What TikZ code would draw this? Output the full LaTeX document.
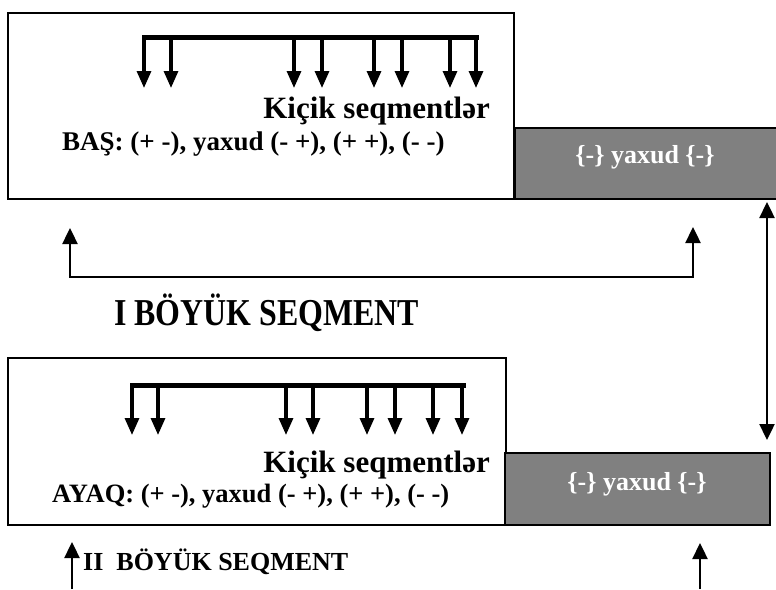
\documentclass[tikz,border=0pt]{standalone}
\usepackage{fontspec}
\setmainfont{Liberation Serif}
\newfontfamily\narrowfont[FakeStretch=0.84]{Liberation Serif}
\usetikzlibrary{arrows.meta}

\begin{document}
\begin{tikzpicture}[
        x=1pt, y=-1pt,
        frame/.style={draw, line width=1.8pt, inner sep=0pt, anchor=north west},
        gbox/.style={frame, fill=black!50},
        bar/.style={line width=5pt},
        seg/.style={line width=3.2pt, -{Triangle[length=17pt, width=14pt]}},
        line/.style={line width=2.4pt, -{Triangle[length=16pt, width=15pt]}},
        both/.style={line width=2.4pt, {Triangle[length=16pt, width=15pt]}-{Triangle[length=16pt, width=15pt]}},
        txt/.style={inner sep=0pt, anchor=base west},
        big/.style={font=\bfseries\fontsize{31}{36}\selectfont},
        mid/.style={font=\bfseries\fontsize{27}{31}\selectfont},
        gtxt/.style={inner sep=0pt, anchor=base, text=white, font=\bfseries\fontsize{26}{30}\selectfont}
    ]
    \useasboundingbox (0,0) rectangle (776,589);

    % I boyuk seqment
    \node[frame, minimum width=506pt, minimum height=186pt] (head) at (7,12) {};
    \node[gbox, minimum width=264pt, minimum height=71pt] (gray1) at (514,127) {};
    \draw[bar] (142,37) -- (479,37);
    \foreach \x in {144,171,294,322,374,402,450,476}
        \draw[seg] (\x,37) -- (\x,88);
    \node[txt, big, anchor=base east] (small1) at (490,118) {Kiçik seqmentlər};
    \node[txt, mid] (bas) at (62,150) {BAŞ: (+ -), yaxud (- +), (+ +), (- -)};
    \node[gtxt] (or1) at (645,163) {\{-\} yaxud \{-\}};

    \coordinate (lt) at (70,228);
    \coordinate (rt) at (693,227);
    \draw[both] (lt) -- (70,277) -- (693,277) -- (rt);
    \node[txt, font=\narrowfont\bfseries\fontsize{38}{44}\selectfont] (first) at (114,325) {I BÖYÜK SEQMENT};

    \coordinate (d1) at (767,202);
    \coordinate (d2) at (767,440);
    \draw[both] (d1) -- (d2);

    % II boyuk seqment
    \node[frame, minimum width=498pt, minimum height=167pt] (foot) at (7,357) {};
    \node[gbox, minimum width=265pt, minimum height=72pt] (gray2) at (504,452) {};
    \draw[bar] (130,385) -- (466,385);
    \foreach \x in {132,158,286,313,367,395,433,462}
        \draw[seg] (\x,385) -- (\x,435);
    \node[txt, big, anchor=base east] (small2) at (490,472) {Kiçik seqmentlər};
    \node[txt, font=\bfseries\fontsize{26.5}{31}\selectfont] (ayaq) at (52,502) {AYAQ: (+ -), yaxud (- +), (+ +), (- -)};
    \node[gtxt] (or2) at (637,490) {\{-\} yaxud \{-\}};

    \coordinate (b1) at (72,542);
    \coordinate (b2) at (700,543);
    \draw[line] (72,589) -- (b1);
    \draw[line] (700,589) -- (b2);
    \node[txt, font=\bfseries\fontsize{26}{31}\selectfont] (second) at (83,570) {II\ \ BÖYÜK SEQMENT};

\end{tikzpicture}
\end{document}
